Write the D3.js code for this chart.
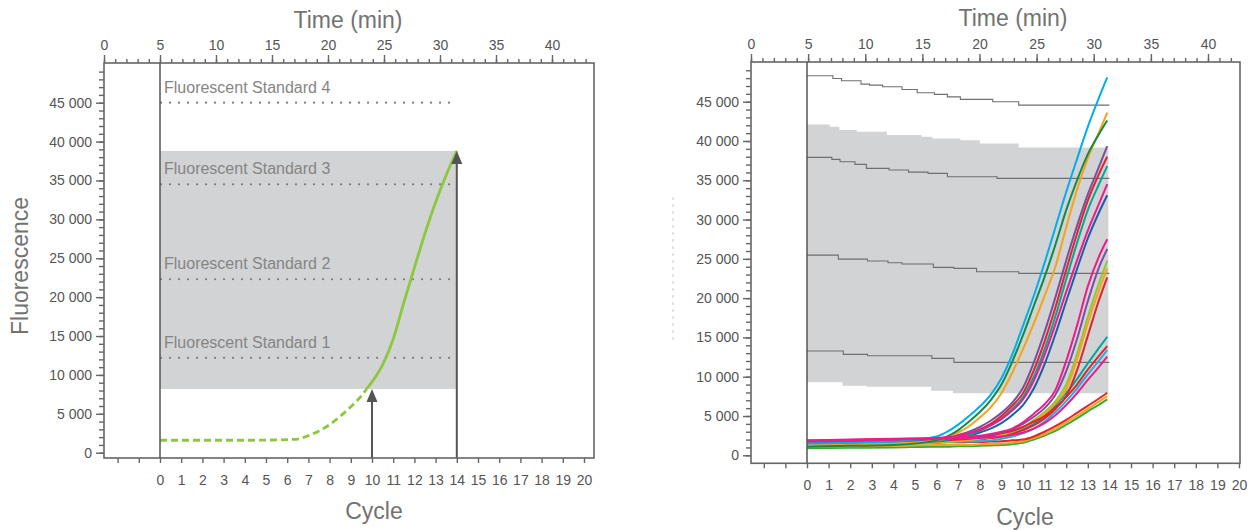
<!DOCTYPE html>
<html>
<head>
<meta charset="utf-8">
<script src="https://cdn.jsdelivr.net/npm/d3@7"></script>
<style>
body{margin:0;background:#fff;}
text{font-family:"Liberation Sans",Arial,Helvetica,sans-serif;}
</style>
</head>
<body>
<svg id="chart" width="1254" height="530"></svg>
<script>
// ---- left panel data ----
var stdNames = ["Fluorescent Standard 1", "Fluorescent Standard 2", "Fluorescent Standard 3", "Fluorescent Standard 4"];
var stdLevels = [12200, 22300, 34500, 45000];
var bandLeftCycles = [0, 14];
var bandLeftVals = [8200, 38800];

var greenDashCycles = [0, 1, 2, 3, 4, 5, 6, 6.5, 7, 7.5, 8, 8.5, 9, 9.5, 9.75];
var greenDashVals = [1600, 1600, 1600, 1600, 1600, 1620, 1680, 1750, 2200, 2800, 3600, 4700, 5900, 7300, 8200];
var greenSolidCycles = [9.75, 10, 10.5, 11, 11.5, 12, 12.5, 13, 13.5, 14];
var greenSolidVals = [8200, 9100, 11300, 14600, 19300, 23800, 28200, 32200, 35700, 38800];

var arrowCycles = [10, 14];
var arrowTips = [8200, 38800];

// ---- right panel data ----
var rCycles = [0, 2, 4, 6, 6.5, 7, 7.5, 8, 8.5, 9, 9.5, 10, 10.5, 11, 11.5, 12, 12.5, 13, 13.5, 13.9];

var cyan1    = [1500,1600,1750,2400,3000,3900,5000,6200,7700,9800,12800,16500,20300,24500,29000,33500,37700,41800,45400,48100];
var green1   = [1100,1200,1300,1900,2400,3200,4300,5500,7000,9000,11900,15300,19000,22700,26800,31200,35000,38300,40800,42600];
var orange1  = [1300,1400,1500,1900,2300,2900,3700,4800,6100,7900,10500,13500,16800,20300,24000,29000,33800,37800,41000,43600];
var purple1  = [1700,1800,1900,2100,2300,2600,3000,3600,4400,5400,6700,8600,11800,15700,20100,24800,29200,33200,36600,39350];
var red1     = [1600,1700,1800,2000,2200,2400,2800,3300,4000,5000,6300,7900,10800,14500,18800,23600,28200,32400,35700,38000];
var teal1    = [1400,1500,1600,1800,2000,2300,2600,3100,3800,4700,5900,7400,10000,13500,17700,22400,27000,31200,34400,36800];
var magenta1 = [1900,2000,2100,2200,2300,2500,2800,3200,3800,4600,5700,7100,9500,12800,16700,20800,24800,28600,31900,34500];
var blue1    = [1500,1600,1700,1900,2000,2200,2500,2900,3400,4100,5100,6400,8500,11600,15400,19600,23700,27600,30800,33100];
var magenta2 = [1850,1950,2050,2200,2250,2300,2400,2500,2700,3000,3400,4200,5300,6500,8300,12000,16500,21500,25200,27500];
var purple2  = [1700,1800,1900,2000,2100,2200,2300,2400,2600,2900,3300,4000,4900,6000,7700,10700,14800,19600,23800,26250];
var lgreen1  = [1200,1300,1400,1600,1700,1800,1900,2100,2300,2600,3000,3600,4500,5500,6900,9000,12900,17600,21800,24760];
var orange2  = [1300,1400,1500,1700,1800,1900,2000,2200,2400,2700,3100,3600,4400,5300,6600,8400,12200,16800,20900,23790];
var red2     = [1500,1600,1700,1800,1900,2000,2100,2300,2500,2800,3100,3600,4300,5000,6100,7500,10800,15200,19600,22650];
var teal2    = [1400,1500,1600,1800,1850,1900,1950,2000,2200,2400,2800,3300,4000,5000,6300,7900,9700,11700,13600,15090];
var red3     = [1600,1700,1800,2000,2050,2100,2100,2100,2200,2400,2700,3200,3800,4700,5900,7400,9000,10900,12600,13900];
var cyan2    = [1300,1400,1500,1700,1700,1750,1750,1800,1900,2100,2400,2800,3400,4300,5500,6900,8500,10300,12000,13400];
var magenta3 = [1800,1900,2000,2100,2150,2150,2200,2200,2300,2400,2600,2900,3400,4100,5100,6400,7900,9600,11200,12550];
var red4     = [1400,1500,1550,1600,1650,1650,1700,1700,1750,1800,1900,2000,2400,3000,3700,4500,5400,6300,7200,7960];
var orange3  = [1100,1150,1200,1300,1300,1350,1350,1400,1450,1500,1600,1800,2200,2700,3400,4200,5000,5900,6800,7540];
var green4   = [900,950,1000,1100,1100,1150,1150,1200,1250,1300,1400,1600,2000,2500,3100,3900,4700,5600,6400,7120];

var curves = [green4, orange3, red4, cyan2, teal2, red3, lgreen1, orange2, red2, blue1, teal1, red1, purple1, purple2, orange1, green1, cyan1, magenta3, magenta1, magenta2];
var curveColors = ["#3aaa35", "#f7a21b", "#e0262a", "#27aae1", "#00a79d", "#e0262a", "#8dc63f", "#f7a21b", "#e0262a", "#1d5ea8", "#00a79d", "#e0262a", "#7d4e9f", "#7d4e9f", "#f7a21b", "#0f8c48", "#00aeef", "#ec1c8c", "#ec1c8c", "#ec1c8c"];

// stepped standard traces (right)
var stdACycles = [0, 1.2, 1.6, 2.5, 2.9, 3.5, 4.4, 5.1, 5.9, 6.5, 7.1, 8.6, 9.8, 14];
var stdAVals = [48300, 47960, 47660, 47240, 47110, 46900, 46560, 46130, 45930, 45620, 45290, 44990, 44570, 44570];
var stdBCycles = [0, 1.15, 1.53, 2.22, 2.75, 3.8, 4.7, 5.6, 6.5, 8.8, 14];
var stdBVals = [37910, 37660, 37350, 37020, 36510, 36300, 36040, 35880, 35450, 35240, 35240];
var stdCCycles = [0, 1.45, 2.8, 3.75, 4.4, 5.85, 6.8, 7.85, 9.8, 14];
var stdCVals = [25480, 24970, 24720, 24500, 24340, 23920, 23790, 23360, 23150, 23150];
var stdDCycles = [0, 1.68, 2.8, 5.78, 6.8, 14];
var stdDVals = [13270, 12850, 12670, 12340, 11830, 11830];

var bandTopCycles = [0, 1.05, 1.5, 2.3, 3.7, 5.3, 5.8, 7.1, 8.0, 9.8, 13.95];
var bandTopVals = [42110, 41810, 41390, 41170, 40750, 40530, 40330, 40110, 39690, 39180, 39180];
var bandBotCycles = [0, 1.65, 2.75, 5.75, 6.75, 13.95];
var bandBotVals = [9290, 8850, 8730, 8220, 7890, 7890];

// ---- scales ----
var svg = d3.select("#chart");

var left = {
	x: d3.scaleLinear().domain([0, 20]).range([160, 584]),
	t: d3.scaleLinear().domain([0, 40]).range([104, 552]),
	y: d3.scaleLinear().domain([0, 45000]).range([452.7, 102.7]),
	x0: 104, x1: 594, y0: 63, y1: 458, tMax: 43, padB: 12
};
var right = {
	x: d3.scaleLinear().domain([0, 20]).range([807, 1239]),
	t: d3.scaleLinear().domain([0, 40]).range([751, 1208]),
	y: d3.scaleLinear().domain([0, 45000]).range([455.3, 101.7]),
	x0: 751, x1: 1240, y0: 62, y1: 463.3, tMax: 42, padB: 12
};

var fmtY = function(d){ return d3.format(",")(d).replace(/,/g, " "); };

var zip = function(a, b){ return a.map(function(v, i){ return [v, b[i]]; }); };

// ---- left panel marks ----
var gL = svg.append("g");

gL.append("rect")
	.attr("x", left.x(bandLeftCycles[0]))
	.attr("y", left.y(bandLeftVals[1]))
	.attr("width", left.x(bandLeftCycles[1]) - left.x(bandLeftCycles[0]))
	.attr("height", left.y(bandLeftVals[0]) - left.y(bandLeftVals[1]))
	.attr("fill", "#d1d3d4");

gL.selectAll(".std")
	.data(stdLevels)
	.enter()
	.append("line")
	.attr("class", "std")
	.attr("x1", left.x(0) + 1)
	.attr("x2", left.x(13.9))
	.attr("y1", function(d){ return left.y(d); })
	.attr("y2", function(d){ return left.y(d); })
	.attr("stroke", "#7d7d7d")
	.attr("stroke-width", 2.2)
	.attr("stroke-linecap", "round")
	.attr("stroke-dasharray", "0.1,8.9");

gL.selectAll(".stdlab")
	.data(stdLevels)
	.enter()
	.append("text")
	.attr("class", "stdlab")
	.attr("x", left.x(0) + 4)
	.attr("y", function(d){ return left.y(d) - 10; })
	.attr("font-size", 16)
	.attr("fill", "#858585")
	.text(function(d, i){ return stdNames[i]; });

var lineL = d3.line()
	.x(function(d){ return left.x(d[0]); })
	.y(function(d){ return left.y(d[1]); })
	.curve(d3.curveMonotoneX);

gL.append("path")
	.attr("d", lineL(zip(greenDashCycles, greenDashVals)))
	.attr("fill", "none")
	.attr("stroke", "#8dc63f")
	.attr("stroke-width", 2.8)
	.attr("stroke-dasharray", "7,4");

gL.append("path")
	.attr("d", lineL(zip(greenSolidCycles, greenSolidVals)))
	.attr("fill", "none")
	.attr("stroke", "#8dc63f")
	.attr("stroke-width", 2.8);

// arrows
arrowCycles.forEach(function(c, i){
	var ax = left.x(c), ay = left.y(arrowTips[i]);
	gL.append("line")
		.attr("x1", ax).attr("x2", ax)
		.attr("y1", left.y1).attr("y2", ay + 10)
		.attr("stroke", "#555").attr("stroke-width", 2);
	gL.append("path")
		.attr("d", "M" + ax + "," + ay + "L" + (ax + 5.5) + "," + (ay + 13) + "L" + (ax - 5.5) + "," + (ay + 13) + "Z")
		.attr("fill", "#555");
});

// ---- right panel marks ----
var gR = svg.append("g");

var bandCycles = d3.sort(Array.from(new Set(bandTopCycles.concat(bandBotCycles))));
var stepVal = function(cs, vs, c){
	var v = vs[0];
	for (var i = 0; i < cs.length; i++){ if (cs[i] <= c) v = vs[i]; }
	return v;
};
var bandData = bandCycles.map(function(c){
	return {c: c, top: stepVal(bandTopCycles, bandTopVals, c), bot: stepVal(bandBotCycles, bandBotVals, c)};
});

gR.append("path")
	.attr("d", d3.area()
		.x(function(d){ return right.x(d.c); })
		.y0(function(d){ return right.y(d.bot); })
		.y1(function(d){ return right.y(d.top); })
		.curve(d3.curveStepAfter)(bandData))
	.attr("fill", "#d1d3d4");

var stepLine = d3.line()
	.x(function(d){ return right.x(d[0]); })
	.y(function(d){ return right.y(d[1]); })
	.curve(d3.curveStepAfter);

[[stdACycles, stdAVals], [stdBCycles, stdBVals], [stdCCycles, stdCVals], [stdDCycles, stdDVals]].forEach(function(s){
	gR.append("path")
		.attr("d", stepLine(zip(s[0], s[1])))
		.attr("fill", "none")
		.attr("stroke", "#6f6f6f")
		.attr("stroke-width", 1.1);
});

var lineR = d3.line()
	.x(function(d){ return right.x(d[0]); })
	.y(function(d){ return right.y(d[1]); })
	.curve(d3.curveMonotoneX);

gR.selectAll(".curve")
	.data(curves)
	.enter()
	.append("path")
	.attr("class", "curve")
	.attr("d", function(d){ return lineR(zip(rCycles, d)); })
	.attr("fill", "none")
	.attr("stroke", function(d, i){ return curveColors[i]; })
	.attr("stroke-width", 2);

// faint leftover mark left of right axis
svg.append("line")
	.attr("x1", 673).attr("x2", 673).attr("y1", 197).attr("y2", 343)
	.attr("stroke", "#c8c8c8").attr("stroke-width", 1).attr("stroke-dasharray", "3,4");

// ---- frames and axes ----
function drawAxes(p){
	var g = svg.append("g");

	g.append("rect")
		.attr("x", p.x0).attr("y", p.y0)
		.attr("width", p.x1 - p.x0).attr("height", p.y1 - p.y0)
		.attr("fill", "none").attr("stroke", "#666").attr("stroke-width", 1.6);

	g.append("line")
		.attr("x1", p.x(0)).attr("x2", p.x(0))
		.attr("y1", p.y0).attr("y2", p.y1)
		.attr("stroke", "#555").attr("stroke-width", 1.5);

	// cycle axis
	g.append("g")
		.attr("transform", "translate(0," + p.y1 + ")")
		.call(d3.axisBottom(p.x).tickValues(d3.range(-2, 21)).tickSize(5).tickPadding(p.padB)
			.tickFormat(function(d){ return d < 0 ? "" : d; }));

	// time axis
	g.append("g")
		.attr("transform", "translate(0," + p.y0 + ")")
		.call(d3.axisTop(p.t).tickValues(d3.range(0, p.tMax + 1)).tickSize(4).tickFormat(""));
	g.append("g")
		.attr("transform", "translate(0," + p.y0 + ")")
		.call(d3.axisTop(p.t).tickValues(d3.range(0, 41, 5)).tickSize(8).tickPadding(5));

	// fluorescence axis
	g.append("g")
		.attr("transform", "translate(" + p.x0 + ",0)")
		.call(d3.axisLeft(p.y).tickValues(d3.range(0, 50000, 1000)).tickSize(5).tickFormat(""));
	g.append("g")
		.attr("transform", "translate(" + p.x0 + ",0)")
		.call(d3.axisLeft(p.y).tickValues(d3.range(0, 50000, 5000)).tickSize(8).tickPadding(4).tickFormat(fmtY));

	g.selectAll(".domain").remove();
	g.selectAll(".tick line").attr("stroke", "#666").attr("stroke-width", 1.4);
	g.selectAll(".tick text").attr("fill", "#555").attr("font-size", 14)
		.attr("font-family", "'Liberation Sans', Arial, sans-serif");
}

drawAxes(left);
drawAxes(right);

// titles
var title = function(x, y, s, rot){
	var t = svg.append("text")
		.attr("x", x).attr("y", y)
		.attr("text-anchor", "middle")
		.attr("font-size", 23)
		.attr("fill", "#727272")
		.text(s);
	if (rot) t.attr("transform", "rotate(-90," + x + "," + y + ")");
};
title(348, 28, "Time (min)");
title(1013, 26, "Time (min)");
title(374, 519, "Cycle");
title(1025, 525, "Cycle");
title(28, 266, "Fluorescence", true);
</script>
</body>
</html>
